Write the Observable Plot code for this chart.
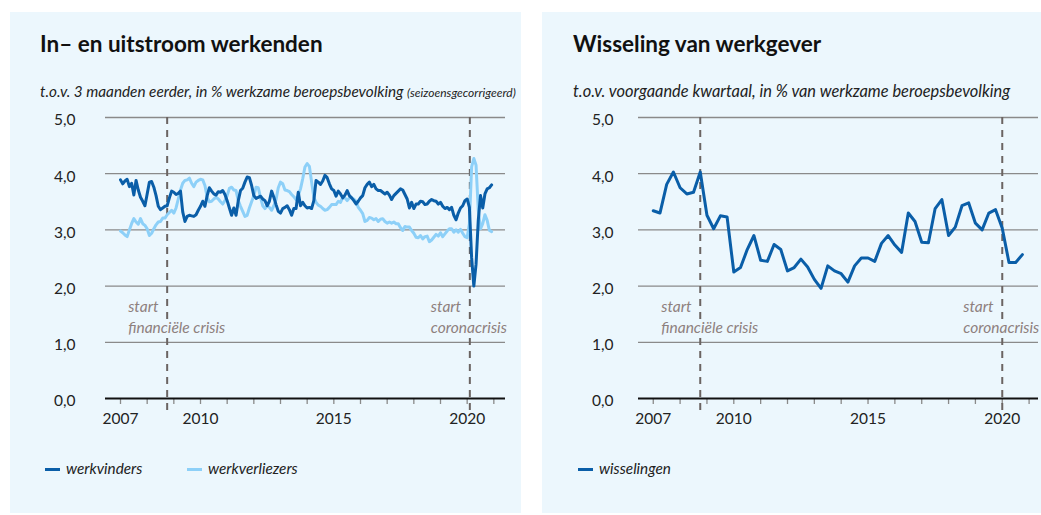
<!DOCTYPE html>
<html>
<head>
<meta charset="utf-8">
<script src="https://cdn.jsdelivr.net/npm/d3@7"></script>
<script src="https://cdn.jsdelivr.net/npm/@observablehq/plot@0.6"></script>
<style>
  body { margin: 0; background: #ffffff; }
  #root { position: relative; width: 1041px; height: 515px; overflow: hidden; font-family: Lato, "Open Sans", sans-serif; }
  .panel { position: absolute; background: #ecf7fd; }
  .title { position: absolute; font-weight: 700; font-size: 22.5px; color: #111; white-space: nowrap; line-height: 24px; }
  .sub { position: absolute; font-style: italic; color: #222; white-space: nowrap; line-height: 18px; }
  .sub small { font-size: 12px; }
  .chart { position: absolute; }
  .legend { position: absolute; font-style: italic; font-size: 15.3px; color: #222; white-space: nowrap; line-height: 18px; }
  .sw { display: inline-block; width: 15px; height: 3px; vertical-align: middle; margin-right: 6px; position: relative; top: -1px; }
</style>
</head>
<body>
<div id="root">
  <div class="panel" style="left:10px;top:12px;width:511px;height:501px"></div>
  <div class="panel" style="left:542px;top:12px;width:499px;height:501px"></div>

  <div class="title" style="left:40px;top:32px">In– en uitstroom werkenden</div>
  <div class="sub" style="left:40px;top:82px;font-size:15.3px">t.o.v. 3 maanden eerder, in % werkzame beroepsbevolking <small>(seizoensgecorrigeerd)</small></div>
  <div class="chart" id="c1" style="left:10px;top:100px"></div>
  <div class="legend" style="left:45px;top:459px"><span class="sw" style="background:#0a5ea8"></span>werkvinders</div>
  <div class="legend" style="left:187px;top:459px"><span class="sw" style="background:#8dd0f8"></span>werkverliezers</div>

  <div class="title" style="left:573px;top:32px">Wisseling van werkgever</div>
  <div class="sub" style="left:573px;top:82px;font-size:16.4px">t.o.v. voorgaande kwartaal, in % van werkzame beroepsbevolking</div>
  <div class="chart" id="c2" style="left:542px;top:100px"></div>
  <div class="legend" style="left:578px;top:459px"><span class="sw" style="background:#0a5ea8"></span>wisselingen</div>
</div>
<script>
// ---- data ----
// monthly, starting January 2007
const monthlyStart = 2007;
const werkvinders = [3.89,3.82,3.87,3.90,3.77,3.83,3.62,3.88,3.71,3.58,3.51,3.43,3.64,3.85,3.86,3.76,3.61,3.42,3.36,3.39,3.42,3.43,3.57,3.69,3.67,3.63,3.65,3.69,3.32,3.15,3.24,3.26,3.25,3.24,3.27,3.35,3.42,3.51,3.42,3.61,3.75,3.69,3.64,3.62,3.68,3.67,3.70,3.63,3.52,3.39,3.26,3.39,3.26,3.52,3.70,3.74,3.85,3.94,3.93,3.79,3.61,3.56,3.58,3.60,3.55,3.52,3.43,3.51,3.69,3.58,3.45,3.33,3.30,3.38,3.40,3.43,3.36,3.26,3.38,3.38,3.67,3.43,3.49,3.43,3.39,3.40,3.38,3.52,3.88,3.85,3.81,3.87,3.97,3.93,3.82,3.73,3.70,3.60,3.69,3.64,3.57,3.62,3.70,3.61,3.57,3.52,3.46,3.51,3.57,3.61,3.75,3.81,3.85,3.77,3.81,3.73,3.70,3.70,3.67,3.64,3.67,3.62,3.54,3.61,3.65,3.69,3.73,3.71,3.63,3.55,3.39,3.49,3.38,3.46,3.46,3.51,3.50,3.45,3.46,3.51,3.54,3.52,3.51,3.46,3.49,3.42,3.38,3.40,3.36,3.40,3.26,3.18,3.30,3.39,3.43,3.52,3.55,3.40,2.51,2.00,2.39,3.17,3.61,3.39,3.64,3.73,3.75,3.80];
const werkverliezers = [2.98,2.95,2.91,2.88,3.00,3.11,3.20,3.14,3.10,3.20,3.11,3.08,3.02,2.90,2.94,3.02,3.09,3.14,3.15,3.21,3.21,3.27,3.31,3.35,3.30,3.39,3.55,3.71,3.83,3.88,3.89,3.92,3.83,3.77,3.85,3.88,3.90,3.89,3.79,3.58,3.50,3.51,3.55,3.58,3.55,3.50,3.46,3.52,3.61,3.74,3.76,3.71,3.70,3.52,3.42,3.33,3.24,3.26,3.39,3.50,3.61,3.76,3.75,3.58,3.43,3.38,3.43,3.40,3.35,3.43,3.54,3.75,3.85,3.82,3.71,3.70,3.68,3.63,3.59,3.54,3.61,3.73,3.91,4.12,4.18,4.13,3.85,3.58,3.49,3.44,3.42,3.38,3.35,3.36,3.40,3.45,3.45,3.45,3.51,3.49,3.58,3.57,3.52,3.57,3.57,3.55,3.51,3.40,3.35,3.29,3.15,3.17,3.22,3.21,3.18,3.20,3.15,3.19,3.20,3.15,3.12,3.14,3.12,3.14,3.11,3.11,3.04,2.99,3.06,3.05,3.05,2.99,2.94,2.87,2.86,2.90,2.84,2.88,2.89,2.79,2.82,2.87,2.92,2.89,2.95,2.88,2.93,2.98,3.02,3.02,2.96,3.00,2.96,3.01,2.94,2.88,2.86,3.11,4.12,4.27,4.15,3.35,3.02,3.11,3.27,3.17,2.99,2.97];
// quarterly, starting 2007 Q1
const quarterlyStart = 2007;
const wisselingen = [3.34,3.30,3.81,4.03,3.75,3.64,3.67,4.03,3.26,3.02,3.25,3.23,2.25,2.33,2.65,2.90,2.46,2.44,2.74,2.65,2.27,2.33,2.48,2.34,2.12,1.96,2.36,2.27,2.22,2.07,2.36,2.50,2.50,2.44,2.76,2.90,2.73,2.60,3.30,3.15,2.78,2.77,3.38,3.54,2.90,3.05,3.43,3.48,3.12,3.00,3.30,3.36,3.03,2.42,2.42,2.56];
const yTicks = [0, 1, 2, 3, 4, 5];
const yearTicks = d3.range(2007, 2022);
const yearLabels = [2007, 2010, 2015, 2020];
const crisisLabels = ["start\nfinanciële crisis", "start\ncoronacrisis"];

const DARK = "#0a5ea8", LIGHT = "#8dd0f8", BG = "#ecf7fd";
const FONT = "Lato, 'Open Sans', sans-serif";

const monthly = werkvinders.map((v, i) => ({t: monthlyStart + i / 12, werkvinders: v, werkverliezers: werkverliezers[i]}));
const quarterly = wisselingen.map((v, i) => ({t: quarterlyStart + i / 4, v}));

function chart({width, marginLeft, marginRight, domainX, tickPad, events, lines}) {
  const ann = events.map((x, i) => ({x, label: crisisLabels[i]}));
  return Plot.plot({
    width, height: 340,
    marginTop: 17, marginBottom: 42, marginLeft, marginRight,
    style: {background: "transparent", fontFamily: FONT, fontSize: "15px", color: "#222", overflow: "visible"},
    x: {type: "linear", domain: domainX},
    y: {domain: [0, 5]},
    marks: [
      Plot.ruleY(yTicks.filter(d => d > 0), {stroke: "#8a8a8a", strokeWidth: 1.3}),
      Plot.axisY({ticks: yTicks, tickSize: 0, tickPadding: tickPad, dy: 3, fontSize: 15.5, fill: "#222",
        tickFormat: d => d.toFixed(1).replace(".", ","), label: null}),
      Plot.axisX({ticks: yearTicks, tickSize: 6, tickFormat: () => "", stroke: "#8a8a8a", strokeWidth: 1.3, label: null}),
      Plot.axisX({ticks: yearLabels, tickSize: 0, tickPadding: 14, fontSize: 15.5, fill: "#222", tickFormat: d => String(d), label: null}),
      Plot.ruleX(ann, {x: "x", y1: 5, y2: -0.22, stroke: "#6b6462", strokeWidth: 2, strokeDasharray: "7,6"}),
      Plot.text(ann, {x: "x", y: 1.80, text: "label", dx: -39, textAnchor: "start", lineAnchor: "top",
        lineHeight: 1.35, fontSize: 15.5, fontStyle: "italic", fill: "#8e807d", stroke: BG, strokeWidth: 4}),
      ...lines,
      Plot.ruleY([0], {stroke: "#111", strokeWidth: 2.2})
    ]
  });
}

document.getElementById("c1").appendChild(chart({
  width: 511, marginLeft: 95, marginRight: 16, domainX: [2006.4375, 2021.4375], tickPad: 30,
  events: [2008.75, 2020.1],
  lines: [
    Plot.line(monthly, {x: "t", y: "werkverliezers", stroke: LIGHT, strokeWidth: 3}),
    Plot.line(monthly, {x: "t", y: "werkvinders", stroke: DARK, strokeWidth: 3})
  ]
}));

document.getElementById("c2").appendChild(chart({
  width: 499, marginLeft: 96, marginRight: 3, domainX: [2006.45, 2021.35], tickPad: 25,
  events: [2008.75, 2020.0],
  lines: [
    Plot.line(quarterly, {x: "t", y: "v", stroke: DARK, strokeWidth: 3})
  ]
}));
</script>
</body>
</html>
